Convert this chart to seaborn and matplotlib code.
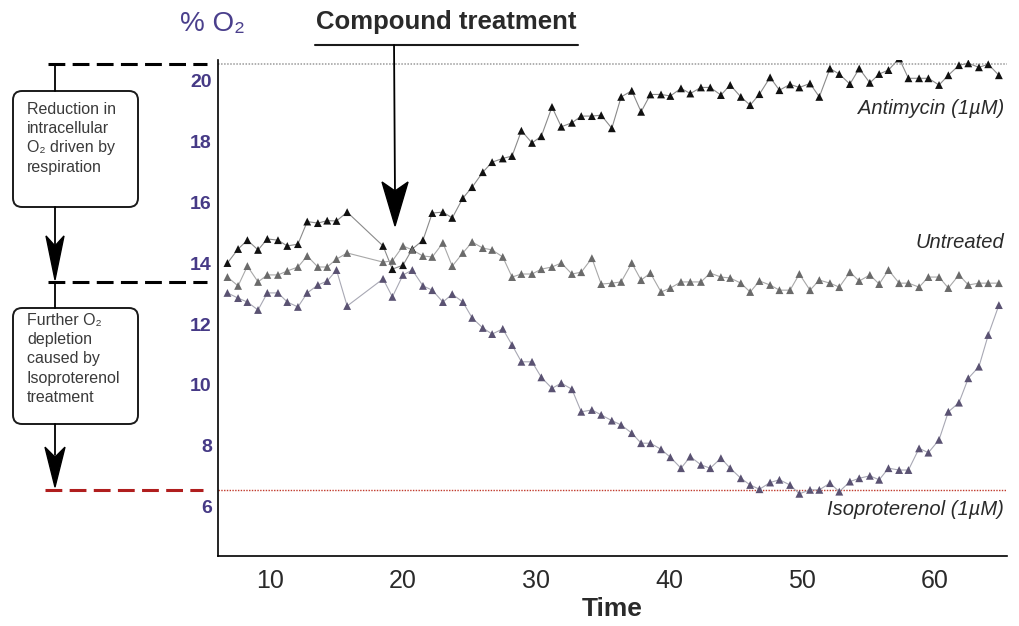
import matplotlib
matplotlib.use("Agg")
import matplotlib.pyplot as plt
import matplotlib.transforms as mtransforms
from matplotlib.patches import FancyBboxPatch, Polygon
from matplotlib.lines import Line2D
from matplotlib.ticker import MultipleLocator
import pandas as pd
import seaborn as sns

# Tiempos de medida (min), antes y despues del hueco en que se anade el compuesto
tiempo_antes = [6.8, 7.6, 8.3, 9.1, 9.8, 10.6, 11.3, 12.1, 12.8, 13.6, 14.3, 15.0, 15.8]
tiempo_despues = [18.5, 19.2, 20.0, 20.7, 21.5, 22.2, 23.0, 23.7, 24.5, 25.2,
                  26.0, 26.7, 27.5, 28.2, 28.9, 29.7, 30.4, 31.2, 31.9, 32.7,
                  33.4, 34.2, 34.9, 35.7, 36.4, 37.2, 37.9, 38.6, 39.4, 40.1,
                  40.9, 41.6, 42.4, 43.1, 43.9, 44.6, 45.4, 46.1, 46.8, 47.6,
                  48.3, 49.1, 49.8, 50.6, 51.3, 52.1, 52.8, 53.6, 54.3, 55.1,
                  55.8, 56.5, 57.3, 58.0, 58.8, 59.5, 60.3, 61.0, 61.8, 62.5,
                  63.3, 64.0, 64.8]

# % O2 intracelular de cada tratamiento
antimycin = [14.00, 14.46, 14.75, 14.43, 14.79, 14.75, 14.56, 14.62, 15.36, 15.31, 15.39, 15.38, 15.67,
             14.56, 13.80, 13.93, 14.46, 14.75, 15.64, 15.67, 15.48, 16.13, 16.49,
             16.98, 17.31, 17.43, 17.51, 18.34, 17.94, 18.16, 19.12, 18.47, 18.60,
             18.82, 18.82, 18.85, 18.42, 19.45, 19.65, 18.96, 19.53, 19.53, 19.48,
             19.73, 19.56, 19.76, 19.76, 19.51, 19.84, 19.45, 19.18, 19.54, 20.09,
             19.67, 19.86, 19.76, 19.89, 19.45, 20.38, 20.20, 19.87, 20.38, 19.91,
             20.20, 20.33, 20.71, 20.06, 20.06, 20.06, 19.84, 20.16, 20.49, 20.55,
             20.42, 20.52, 20.16]
untreated = [13.54, 13.25, 13.90, 13.38, 13.61, 13.61, 13.74, 13.87, 14.23, 13.87, 13.87, 14.13, 14.33,
             14.03, 14.07, 14.56, 14.43, 14.23, 14.20, 14.66, 13.90, 14.33, 14.69,
             14.49, 14.43, 14.20, 13.54, 13.64, 13.64, 13.80, 13.87, 14.00, 13.64,
             13.70, 14.16, 13.31, 13.34, 13.38, 14.00, 13.44, 13.67, 13.05, 13.18,
             13.38, 13.38, 13.38, 13.67, 13.54, 13.51, 13.34, 13.05, 13.41, 13.28,
             13.11, 13.11, 13.64, 13.11, 13.44, 13.34, 13.21, 13.70, 13.41, 13.61,
             13.31, 13.77, 13.34, 13.34, 13.21, 13.54, 13.54, 13.18, 13.61, 13.28,
             13.34, 13.34, 13.34]
isoproterenol = [13.02, 12.85, 12.72, 12.46, 13.02, 13.02, 12.72, 12.56, 13.02, 13.28, 13.41, 13.77, 12.59,
                 13.48, 12.89, 13.61, 13.77, 13.25, 13.11, 12.72, 12.98, 12.72, 12.20,
                 11.87, 11.67, 11.84, 11.31, 10.76, 10.76, 10.25, 9.89, 10.06, 9.86,
                 9.12, 9.18, 9.02, 8.83, 8.69, 8.42, 8.09, 8.09, 7.89, 7.63,
                 7.27, 7.65, 7.38, 7.27, 7.60, 7.27, 6.94, 6.72, 6.58, 6.80,
                 6.89, 6.72, 6.43, 6.56, 6.56, 6.78, 6.50, 6.83, 6.94, 7.02,
                 6.89, 7.27, 7.21, 7.21, 7.92, 7.78, 8.20, 9.12, 9.42, 10.22,
                 10.60, 11.64, 12.62]

etiquetas = ["Antimycin (1\u00b5M)", "Untreated", "Isoproterenol (1\u00b5M)"]
pos_etiquetas = [19.08, 14.66, 5.9]   # altura (% O2) de cada etiqueta
x_ticks = [10, 20, 30, 40, 50, 60]
y_ticks = [6, 8, 10, 12, 14, 16, 18, 20]

nivel_basal = 20.52      # O2 maximo (antimycin)
nivel_respiracion = 13.38
nivel_iso = 6.55
t_tratamiento = 19.4

W, H = 1019, 626
fuente = ["Liberation Sans", "DejaVu Sans"]

sns.set_style("white")
plt.rcParams["font.family"] = fuente

tiempo = tiempo_antes + tiempo_despues
df = pd.concat([
    pd.DataFrame({"tiempo": tiempo, "o2": antimycin, "grupo": "antimycin"}),
    pd.DataFrame({"tiempo": tiempo, "o2": untreated, "grupo": "untreated"}),
    pd.DataFrame({"tiempo": tiempo, "o2": isoproterenol, "grupo": "isoproterenol"}),
])

fig = plt.figure(figsize=(W / 100, H / 100), dpi=100)
ax = fig.add_axes([218 / W, 1 - 556 / H, (1007 - 218) / W, (556 - 60) / H])

colores_linea = {"antimycin": "#8a8a8a", "untreated": "#a8a8a8", "isoproterenol": "#a8a8b4"}
colores_marca = {"antimycin": "#111111", "untreated": "#6a6a6a", "isoproterenol": "#5a5272"}

sns.lineplot(data=df, x="tiempo", y="o2", hue="grupo", palette=colores_linea,
             linewidth=0.8, estimator=None, sort=False, legend=False, ax=ax)
sns.scatterplot(data=df, x="tiempo", y="o2", hue="grupo", palette=colores_marca,
                marker="^", s=32, linewidth=0, legend=False, ax=ax, zorder=3)

# lineas de referencia dentro del grafico
ax.axhline(nivel_basal, color="#9a9a9a", linewidth=1.1, linestyle=(0, (1, 1)), zorder=1)
ax.axhline(nivel_iso, color="#c0392b", linewidth=1.0, linestyle=(0, (1, 1)), zorder=1)

ax.set_xlim(6.09, 65.41)
ax.set_ylim(4.39, 20.66)
ax.set_xticks(x_ticks)
ax.set_yticks(y_ticks)
ax.xaxis.set_minor_locator(MultipleLocator(2))
sns.despine(ax=ax)
for s in ["left", "bottom"]:
    ax.spines[s].set_color("black")
    ax.spines[s].set_linewidth(1.2)
ax.tick_params(axis="x", which="both", direction="inout", length=3, width=0.8,
               labelsize=18, pad=8, colors="black", labelcolor="#2a2a2a")
ax.tick_params(axis="y", direction="out", length=2.5, width=1.2, labelsize=14,
               pad=2, labelcolor="#463a86")
for lab in ax.get_yticklabels():
    lab.set_fontweight("bold")
ax.set_xlabel("Time", fontsize=19, fontweight="bold", color="#2a2a2a", labelpad=3)
ax.set_ylabel("")

# etiquetas de las series
for texto, altura in zip(etiquetas, pos_etiquetas):
    ax.text(65.2, altura, texto, ha="right", va="center",
            fontsize=14.5, style="italic", color="#2a2a2a")

# ---- anotaciones en pixeles de la imagen (y hacia abajo) ----
ident = mtransforms.IdentityTransform()


def nivel_px(v):
    return H - ax.transData.transform((10, v))[1]


def tiempo_px(t):
    return ax.transData.transform((t, 10))[0]


def linea(x0, y0, x1, y1, **kw):
    fig.add_artist(Line2D([x0, x1], [H - y0, H - y1], transform=ident, **kw))


def punta(x, y, mitad, largo, muesca):
    pts = [(x, y), (x - mitad, y - largo), (x, y - largo + muesca), (x + mitad, y - largo)]
    fig.add_artist(Polygon([(a, H - b) for a, b in pts], closed=True,
                           transform=ident, facecolor="black", edgecolor="black"))


def caja(x0, y0, x1, y1):
    fig.add_artist(FancyBboxPatch((x0, H - y1), x1 - x0, y1 - y0,
                                  boxstyle="round,pad=0,rounding_size=9",
                                  transform=ident, facecolor="white",
                                  edgecolor="#1a1a1a", linewidth=1.4))


y_basal = nivel_px(nivel_basal)
y_resp = nivel_px(nivel_respiracion)
y_iso = nivel_px(nivel_iso)

# lineas discontinuas de la izquierda
guion = (0, (5.5, 2.4))
linea(48, y_basal, 207, y_basal, color="black", linewidth=2.2, linestyle=guion)
linea(48, y_resp, 207, y_resp, color="black", linewidth=2.2, linestyle=guion)
linea(45, y_iso, 203, y_iso, color="#b01e1e", linewidth=2.2, linestyle=guion)

# cajas y flechas
linea(55, y_basal, 55, 91, color="black", linewidth=1.3)
caja(13, 91, 138, 207)
linea(55, 207, 55, 245, color="black", linewidth=1.3)
punta(55, y_resp - 2, 9, 44, 10)
fig.text(27 / W, 1 - 102 / H, "Reduction in\nintracellular\nO\u2082 driven by\nrespiration",
         ha="left", va="top", fontsize=11.5, linespacing=1.35, color="#3a3a3a")

linea(55, y_resp, 55, 308, color="black", linewidth=1.3)
caja(13, 308, 138, 424)
linea(55, 424, 55, 455, color="black", linewidth=1.3)
punta(55, y_iso - 3, 10, 40, 10)
fig.text(27 / W, 1 - 313 / H, "Further O\u2082\ndepletion\ncaused by\nIsoproterenol\ntreatment",
         ha="left", va="top", fontsize=11.5, linespacing=1.35, color="#3a3a3a")

# tratamiento
fig.text(180 / W, 1 - 24 / H, "% O\u2082", ha="left", va="center", fontsize=20,
         color="#4a3f8c")
fig.text(446 / W, 1 - 22 / H, "Compound treatment", ha="center", va="center",
         fontsize=18.5, fontweight="bold", color="#2a2a2a")
x_trat = tiempo_px(t_tratamiento)
linea(315, 45, 578, 45, color="#1a1a1a", linewidth=1.5)
linea(x_trat - 1, 45, x_trat, 200, color="black", linewidth=1.3)
punta(x_trat, 226, 13, 44, 9)

fig.savefig("out.png", dpi=100)
